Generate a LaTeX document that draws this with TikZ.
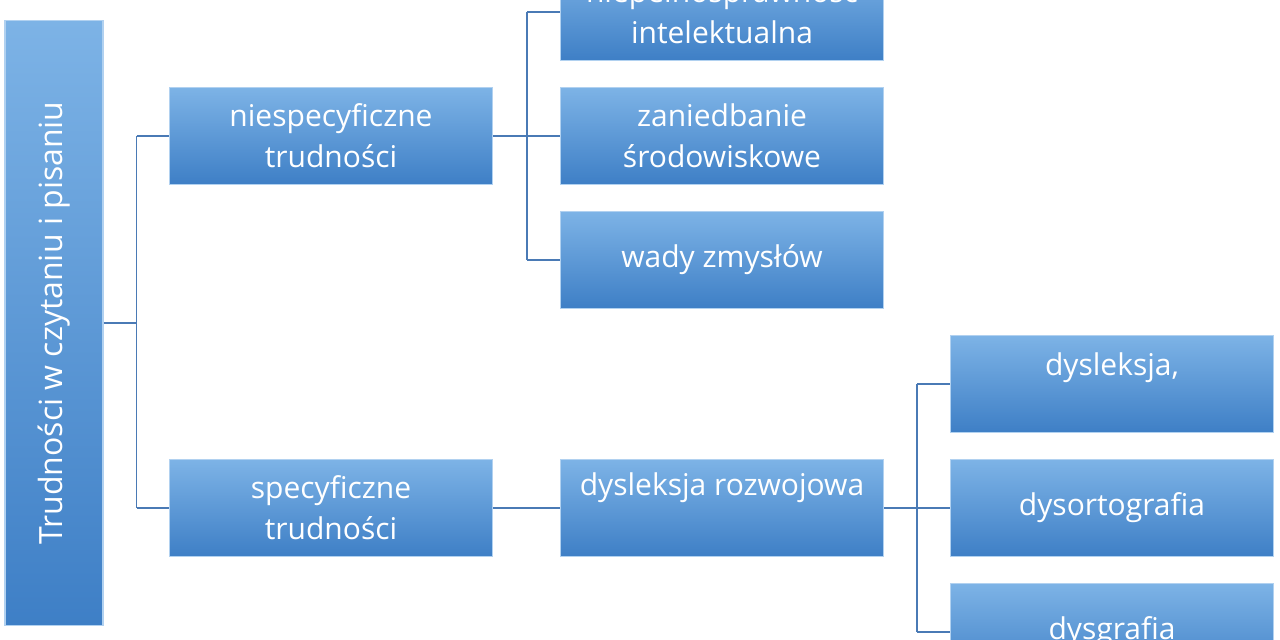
\documentclass[tikz,border=0pt]{standalone}
\usepackage{fontspec}
\setmainfont{Open Sans}
\usetikzlibrary{positioning}
\definecolor{boxtop}{HTML}{7DB3E6}
\definecolor{boxbot}{HTML}{3E7FC6}
\definecolor{linkblue}{HTML}{4A7AB5}
\tikzset{catbox/.style={
    % The shape:
    rectangle,
    minimum width=323pt,
    minimum height=97pt,
    % The border:
    draw=boxtop!60!white,
    line width=1.2pt,
    % The filling:
    top color=boxtop, bottom color=boxbot,
    % Font
    font=\fontsize{30}{41}\selectfont,
    text=white,
    align=center,
    inner sep=2pt,
    },
    rootbox/.style={
    catbox,
    minimum width=605pt,
    minimum height=98pt,
    rotate=90,
    font=\fontsize{32}{40}\selectfont,
    },
    link/.style={draw=linkblue,line width=1.6pt},
}

\begin{document}
\begin{tikzpicture}[x=1pt,y=-1pt]
    \useasboundingbox (0,0) rectangle (1280,640);
    \node (root)   [rootbox]  at (54,323)   {Trudności w czytaniu i pisaniu};
    \node (nspec)  [catbox]   at (331,136)  {niespecyficzne\\trudności};
    \node (spec)   [catbox]   at (331,508)  {specyficzne\\trudności};
    \node (intel)  [catbox]   at (722,12)   {niepełnosprawność\\intelektualna};
    \node (zanied) [catbox]   at (722,136)  {zaniedbanie\\środowiskowe};
    \node (wady)   [catbox]   at (722,260)  {wady zmysłów};
    \node (rozw)   [catbox,text depth=48pt] at (722,508) {dysleksja rozwojowa};
    \node (dysl)   [catbox,text depth=40pt] at (1112,384) {dysleksja,};
    \node (dysort) [catbox]   at (1112,508) {dysortografia};
    \node (dysgr)  [catbox]   at (1112,632) {dysgrafia};

    \path[link] (root.south) -- ++(33,0) coordinate (j1);
    \path[link] (j1 |- nspec.west) -- (j1 |- spec.west);
    \path[link] (j1 |- nspec.west) -- (nspec.west);
    \path[link] (j1 |- spec.west) -- (spec.west);
    \path[link] (nspec.east) -- ++(34,0) coordinate (j2);
    \path[link] (j2 |- intel.west) -- (j2 |- wady.west);
    \foreach \n in {intel,zanied,wady}
        \path[link] (j2 |- \n.west) -- (\n.west);
    \path[link] (spec.east) -- (rozw.west |- spec.east);
    \path[link] (rozw.east |- spec.east) -- ++(33,0) coordinate (j3);
    \path[link] (j3 |- dysl.west) -- (j3 |- dysgr.west);
    \foreach \n in {dysl,dysort,dysgr}
        \path[link] (j3 |- \n.west) -- (\n.west);
\end{tikzpicture}
\end{document}
